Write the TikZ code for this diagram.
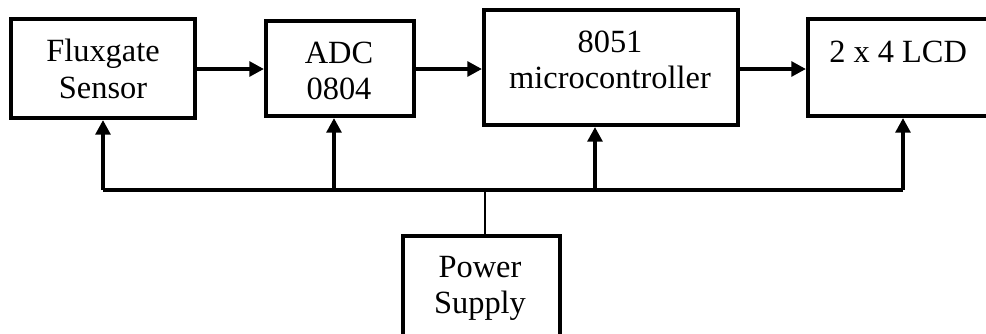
\documentclass[tikz,border=0pt]{standalone}
\usepackage{fontspec}
\setmainfont{Liberation Serif}
\usetikzlibrary{arrows.meta}
\begin{document}
\begin{tikzpicture}[x=0.75pt,y=-0.75pt,
  blk/.style={draw,line width=3pt,inner sep=0pt,fill=none},
  txt/.style={inner sep=0pt,anchor=base,font=\fontsize{24.3}{28}\selectfont},
  arr/.style={line width=2.8pt,-{Triangle[length=11pt,width=11pt]}},
  bus/.style={line width=2.8pt},
  thin/.style={line width=1pt}]
\useasboundingbox (0,0) rectangle (986,333);
% boxes
\node[blk,minimum width=138pt,minimum height=74.25pt] (flux) at (103,68.5) {};
\node[blk,minimum width=111pt,minimum height=71.25pt] (adc) at (340,68.5) {};
\node[blk,minimum width=190.5pt,minimum height=86.25pt] (mcu) at (611,67.5) {};
\node[blk,minimum width=150pt,minimum height=72.75pt] (lcd) at (908,67.5) {};
\node[blk,minimum width=117.75pt,minimum height=90pt] (pwr) at (481.5,296) {};
% texts
\node[txt] (t1) at (103,61) {Fluxgate};
\node[txt] (t2) at (103,98) {Sensor};
\node[txt] (t3) at (339,63) {ADC};
\node[txt] (t4) at (339,99) {0804};
\node[txt] (t5) at (610,52) {8051};
\node[txt] (t6) at (610,88) {microcontroller};
\node[txt,anchor=base west] (t7) at (829,62) {2 x 4 LCD};
\node[txt] (t8) at (480,277) {Power};
\node[txt] (t9) at (480,313) {Supply};
% signal arrows
\draw[arr] (flux.east |- 0,69) -- (adc.west |- 0,69);
\draw[arr] (adc.east |- 0,69) -- (mcu.west |- 0,69);
\draw[arr] (mcu.east |- 0,69) -- (lcd.west |- 0,69);
% power bus
\coordinate (b1) at (103,190);
\coordinate (b2) at (334,190);
\coordinate (b3) at (595,190);
\coordinate (b4) at (903,190);
\coordinate (bp) at (485,190);
\draw[bus] (b1) -- (b4);
\draw[arr] (b1) -- (flux.south -| b1);
\draw[arr] (b2) -- (adc.south -| b2);
\draw[arr] (b3) -- (mcu.south -| b3);
\draw[arr] (b4) -- (lcd.south -| b4);
\draw[thin] (bp) -- (pwr.north -| bp);
\end{tikzpicture}
\end{document}
